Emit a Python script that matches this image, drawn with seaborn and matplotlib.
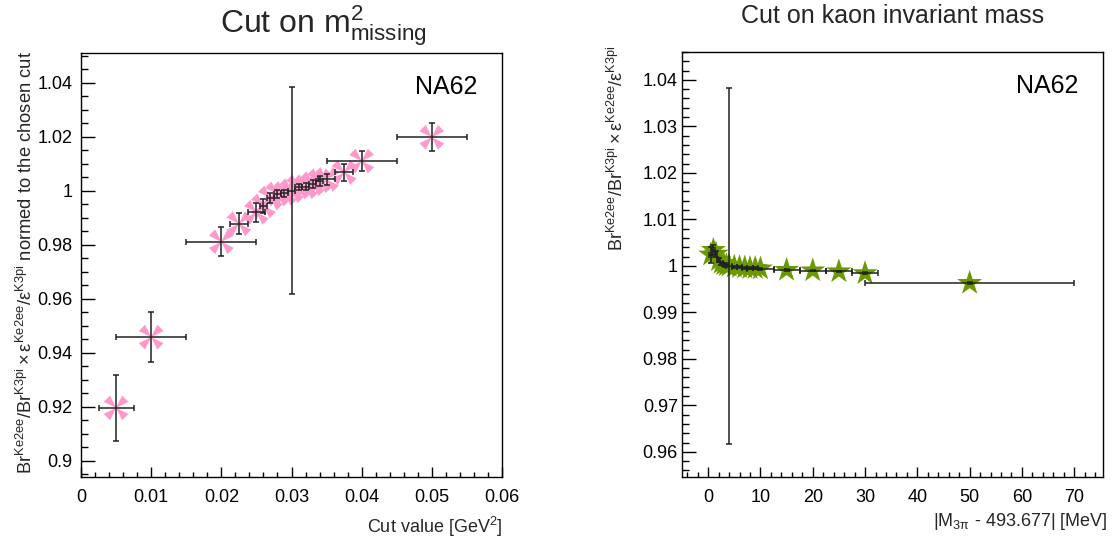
import numpy as np
import pandas as pd
import matplotlib
matplotlib.use("Agg")
import matplotlib.pyplot as plt
from matplotlib.path import Path
from matplotlib.ticker import MultipleLocator, FuncFormatter
import seaborn as sns

# ---------------- data ----------------
# Left panel: cut on m^2_missing
mm_cut = [0.005, 0.01, 0.02, 0.0225, 0.025, 0.026, 0.027, 0.028, 0.029, 0.03,
          0.031, 0.032, 0.033, 0.034, 0.035, 0.0375, 0.04, 0.05]
mm_ratio = [0.9196, 0.9458, 0.9811, 0.9878, 0.9920, 0.9944, 0.9973, 0.9988, 0.9990, 1.0000,
            1.0014, 1.0015, 1.0026, 1.0037, 1.0042, 1.0068, 1.0110, 1.0198]
mm_xerr = [0.0025, 0.005, 0.005, 0.00125, 0.00125, 0.0005, 0.0005, 0.0005, 0.0005, 0.0005,
           0.0005, 0.0005, 0.0005, 0.0005, 0.00125, 0.00125, 0.005, 0.005]
mm_yerr = [0.0123, 0.0093, 0.0054, 0.0040, 0.0035, 0.0025, 0.0020, 0.0015, 0.0012, 0.0383,
           0.0012, 0.0012, 0.0015, 0.0018, 0.0020, 0.0031, 0.0038, 0.0051]

# Right panel: cut on kaon invariant mass
mk_cut = [0.5, 1, 1.5, 2, 2.5, 3, 3.5, 4, 5, 6, 7, 8, 9, 10, 15, 20, 25, 30, 50]
mk_ratio = [1.0024, 1.0034, 1.0026, 1.0012, 1.0006, 1.0003, 1.0001, 1.0000, 0.9998, 0.9997,
            0.9996, 0.9995, 0.9995, 0.9994, 0.9991, 0.9990, 0.9988, 0.9984, 0.9963]
mk_xerr = [0.25, 0.25, 0.25, 0.25, 0.25, 0.25, 0.25, 0.5, 0.5, 0.5,
           0.5, 0.5, 0.5, 2.5, 2.5, 2.5, 2.5, 2.5, 20]
mk_yerr = [0.0017, 0.0010, 0.0006, 0.0004, 0.0003, 0.0003, 0.0002, 0.0382, 0.0002, 0.0002,
           0.0002, 0.0002, 0.0002, 0.0002, 0.0002, 0.0002, 0.0002, 0.0002, 0.0002]

left_title = r"Cut on $\mathrm{m}^{2}_{\mathrm{missing}}$"
right_title = "Cut on kaon invariant mass"
left_xlabel = r"Cut value [GeV$^{2}$]"
right_xlabel = r"|M$_{\mathrm{3π}}$ - 493.677| [MeV]"
ratio_tex = (r"$\mathrm{Br}^{\mathrm{Ke2ee}}/\mathrm{Br}^{\mathrm{K3pi}}\times"
             r"\mathrm{ε}^{\mathrm{Ke2ee}}/\mathrm{ε}^{\mathrm{K3pi}}$")
left_ylabel = ratio_tex + " normed to the chosen cut"
right_ylabel = ratio_tex
tag = "NA62"

# ---------------- style ----------------
sns.set_theme(style="ticks")
plt.rcParams["font.family"] = ["Liberation Sans", "DejaVu Sans"]
plt.rcParams["mathtext.fontset"] = "custom"
plt.rcParams["mathtext.rm"] = "Liberation Sans"
plt.rcParams["mathtext.it"] = "Liberation Sans:italic"
plt.rcParams["mathtext.bf"] = "Liberation Sans:bold"
plt.rcParams["axes.linewidth"] = 1.0
plt.rcParams["axes.edgecolor"] = "black"

W, H = 1117, 544
fig = plt.figure(figsize=(W / 100, H / 100), dpi=100)
fig.patch.set_facecolor("white")

def px_axes(x0, x1, y0, y1):
    return fig.add_axes([x0 / W, 1 - y1 / H, (x1 - x0) / W, (y1 - y0) / H])

axL = px_axes(81, 502, 53, 477)
axR = px_axes(682, 1103, 52, 477)

# pink "four wedges" marker
def wedge_marker():
    verts, codes = [], []
    half = np.deg2rad(19)
    for c in [45, 135, 225, 315]:
        a = np.deg2rad(c)
        verts += [(0, 0), (np.cos(a - half), np.sin(a - half)),
                  (np.cos(a + half), np.sin(a + half)), (0, 0)]
        codes += [Path.MOVETO, Path.LINETO, Path.LINETO, Path.CLOSEPOLY]
    return Path(verts, codes)

pink = "#FF99CC"
green = "#6A9A00"
ebar_col = "#222222"

dfL = pd.DataFrame({"cut": mm_cut, "ratio": mm_ratio})
dfR = pd.DataFrame({"cut": mk_cut, "ratio": mk_ratio})

sns.scatterplot(data=dfL, x="cut", y="ratio", ax=axL, marker=wedge_marker(),
                s=320, color=pink, edgecolor="none", linewidth=0, zorder=2, legend=False)
axL.errorbar(mm_cut, mm_ratio, xerr=mm_xerr, yerr=mm_yerr, fmt="none",
             ecolor=ebar_col, elinewidth=1.1, capsize=2.5, capthick=1.1, zorder=3)

sns.scatterplot(data=dfR, x="cut", y="ratio", ax=axR, marker="*",
                s=360, color=green, edgecolor="none", linewidth=0, zorder=2, legend=False)
axR.errorbar(mk_cut, mk_ratio, xerr=mk_xerr, yerr=mk_yerr, fmt="none",
             ecolor=ebar_col, elinewidth=1.1, capsize=2.5, capthick=1.1, zorder=3)

fmt = FuncFormatter(lambda v, p: f"{round(v, 6):g}")

# left axes
axL.set_xlim(0, 0.06)
axL.set_ylim(0.894, 1.051)
axL.xaxis.set_major_locator(MultipleLocator(0.01))
axL.xaxis.set_minor_locator(MultipleLocator(0.002))
axL.yaxis.set_major_locator(MultipleLocator(0.02))
axL.yaxis.set_minor_locator(MultipleLocator(0.005))

# right axes
axR.set_xlim(-5, 75.5)
axR.set_ylim(0.9546, 1.046)
axR.xaxis.set_major_locator(MultipleLocator(10))
axR.xaxis.set_minor_locator(MultipleLocator(2))
axR.yaxis.set_major_locator(MultipleLocator(0.01))
axR.yaxis.set_minor_locator(MultipleLocator(0.002))

for ax in (axL, axR):
    ax.xaxis.set_major_formatter(fmt)
    ax.yaxis.set_major_formatter(fmt)
    ax.tick_params(axis="both", which="both", direction="in", colors="black",
                   labelsize=13, top=False, right=False, width=1.0)
    ax.tick_params(axis="x", which="major", length=7.5, pad=9)
    ax.tick_params(axis="x", which="minor", length=3.5)
    ax.tick_params(axis="y", which="major", length=10)
    ax.tick_params(axis="y", which="minor", length=5)
    for s in ax.spines.values():
        s.set_visible(True)
        s.set_color("black")
        s.set_linewidth(1.0)
    ax.set_facecolor("white")
    ax.grid(False)
    ax.text(0.9406, 0.903, tag, transform=ax.transAxes, ha="right", va="baseline",
            fontsize=18, color="black")

axL.tick_params(axis="y", which="major", pad=6)
axR.tick_params(axis="y", which="major", pad=3)

axL.set_xlabel(left_xlabel, fontsize=13, loc="right")
axR.set_xlabel(right_xlabel, fontsize=13, loc="right")
axL.xaxis.set_label_coords(1.0, -0.09)
axR.xaxis.set_label_coords(1.01, -0.08)

axL.set_ylabel(left_ylabel, fontsize=13.2, loc="top")
axR.set_ylabel(right_ylabel, fontsize=13, loc="top")
axL.yaxis.set_label_coords(-0.107, 1.005)
axR.yaxis.set_label_coords(-0.13, 1.015)

fig.text(220 / W, 1 - 32 / H, left_title, ha="left", va="baseline", fontsize=23)
fig.text(892.5 / W, 1 - 23 / H, right_title, ha="center", va="baseline", fontsize=18)

fig.savefig("out.png", dpi=100, facecolor="white")
